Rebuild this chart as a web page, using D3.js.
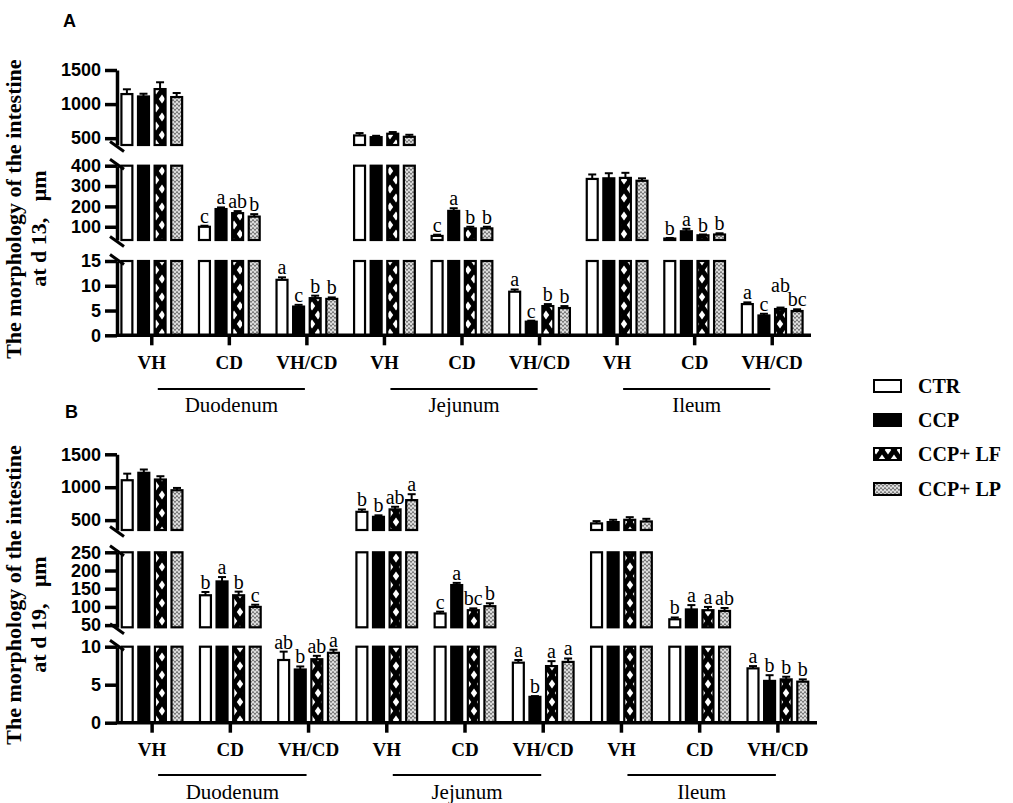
<!DOCTYPE html>
<html><head><meta charset="utf-8">
<script src="https://cdn.jsdelivr.net/npm/d3@7"></script>
<style>body{margin:0;background:#fff} svg{display:block}</style>
</head><body>
<svg id="chart" width="1013" height="803"></svg>
<script>
// ---------------- DATA ----------------
const categories = ["VH", "CD", "VH/CD"];
const intestineSegments = ["Duodenum", "Jejunum", "Ileum"];
const groups = ["CTR", "CCP", "CCP+ LF", "CCP+ LP"];

// y tick labels per axis segment (low, middle, top)
const ticksA = [[0, 5, 10, 15], [100, 200, 300, 400], [500, 1000, 1500]];
const ticksB = [[0, 5, 10], [50, 100, 150, 200, 250], [500, 1000, 1500]];

// rows: Duodenum VH, CD, VH/CD, Jejunum VH, CD, VH/CD, Ileum VH, CD, VH/CD
// columns: CTR, CCP, CCP+ LF, CCP+ LP
const meansA = [
  [1147, 1112, 1220, 1103],
  [100, 187, 167, 150],
  [11.2, 5.8, 7.5, 7.35],
  [540, 515, 565, 520],
  [55, 178, 92, 92],
  [8.8, 2.75, 5.9, 5.5],
  [335, 338, 340, 326],
  [42, 78, 58, 62],
  [6.3, 4.0, 5.3, 4.9]
];
const errorsA = [
  [70, 40, 100, 60],
  [5, 8, 10, 12],
  [0.5, 0.35, 0.5, 0.3],
  [35, 20, 25, 30],
  [6, 13, 8, 8],
  [0.45, 0.2, 0.4, 0.4],
  [22, 25, 25, 12],
  [3, 12, 4, 6],
  [0.35, 0.35, 0.3, 0.35]
];
const lettersA = [
  ["", "", "", ""],
  ["c", "a", "ab", "b"],
  ["a", "c", "b", "b"],
  ["", "", "", ""],
  ["c", "a", "b", "b"],
  ["a", "c", "b", "b"],
  ["", "", "", ""],
  ["b", "a", "b", "b"],
  ["a", "c", "ab", "bc"]
];

const meansB = [
  [1106, 1219, 1117, 954],
  [132, 170, 132, 100],
  [8.25, 7.0, 8.35, 9.2],
  [626, 550, 663, 804],
  [82, 160, 91, 102],
  [7.9, 3.4, 7.45, 8.0],
  [450, 470, 505, 480],
  [66, 93, 91, 89],
  [7.15, 5.5, 5.7, 5.4]
];
const errorsB = [
  [100, 50, 50, 35],
  [9, 12, 10, 6],
  [1.1, 0.4, 0.45, 0.4],
  [36, 23, 40, 90],
  [5, 6, 5, 8],
  [0.35, 0.1, 0.65, 0.45],
  [35, 35, 40, 40],
  [5, 12, 9, 8],
  [0.3, 0.75, 0.35, 0.3]
];
const lettersB = [
  ["", "", "", ""],
  ["b", "a", "b", "c"],
  ["ab", "b", "ab", "a"],
  ["b", "b", "ab", "a"],
  ["c", "a", "bc", "b"],
  ["a", "b", "a", "a"],
  ["", "", "", ""],
  ["b", "a", "a", "ab"],
  ["a", "b", "b", "b"]
];

// ---------------- LAYOUT ----------------
const SERIF = "'Liberation Serif','Times New Roman',Times,serif";
const SANS = "'Liberation Sans',Arial,Helvetica,sans-serif";

const panels = [
  {
    label: "A", labelX: 63, labelY: 27,
    day: "at d 13,\u00a0\u00a0\u00a0μm",
    x0: 113, x1: 811, axisX: 117,
    segs: [
      {d: [0, 15], r: [335.3, 261]},
      {d: [35, 400], r: [240, 165.7]},
      {d: [400, 1500], r: [145, 70]}
    ],
    ticks: ticksA, means: meansA, errors: errorsA, letters: lettersA,
    lineY: 389, segLabelY: 412
  },
  {
    label: "B", labelX: 65, labelY: 418,
    day: "at d 19,\u00a0\u00a0\u00a0μm",
    x0: 113, x1: 817, axisX: 117,
    segs: [
      {d: [0, 10], r: [722.7, 646.7]},
      {d: [44, 250], r: [627.3, 552.3]},
      {d: [350, 1500], r: [530, 454.3]}
    ],
    ticks: ticksB, means: meansB, errors: errorsB, letters: lettersB,
    lineY: 775, segLabelY: 799
  }
];

const svg = d3.select("#chart");
const defs = svg.append("defs");

// pattern for CCP+ LF : black with white staggered diamonds
const pLF = defs.append("pattern").attr("id", "patLF")
  .attr("patternUnits", "userSpaceOnUse").attr("width", 12).attr("height", 18);
pLF.append("rect").attr("width", 12).attr("height", 18).attr("fill", "#000");
[[0, 0], [12, 0], [0, 18], [12, 18], [6, 9]].forEach(([cx, cy]) => {
  pLF.append("path")
    .attr("d", `M${cx},${cy - 4.5}L${cx + 3.2},${cy}L${cx},${cy + 4.5}L${cx - 3.2},${cy}Z`)
    .attr("fill", "#fff");
});

// pattern for CCP+ LP : white with fine black wavy texture
const pLP = defs.append("pattern").attr("id", "patLP")
  .attr("patternUnits", "userSpaceOnUse").attr("width", 4).attr("height", 4);
pLP.append("rect").attr("width", 4).attr("height", 4).attr("fill", "#fff");
pLP.append("path").attr("d", "M0,1 Q1,0 2,1 T4,1").attr("stroke", "#000")
  .attr("stroke-width", 0.7).attr("fill", "none");
pLP.append("path").attr("d", "M0,3 Q1,4 2,3 T4,3").attr("stroke", "#000")
  .attr("stroke-width", 0.5).attr("fill", "none");

const fills = ["#fff", "#000", "url(#patLF)", "url(#patLP)"];

panels.forEach(P => {
  const g = svg.append("g");

  // panel label
  g.append("text").attr("x", P.labelX).attr("y", P.labelY)
    .attr("font-family", SANS).attr("font-weight", "bold").attr("font-size", 18)
    .text(P.label);

  // y scales per segment
  const ys = P.segs.map(s => d3.scaleLinear().domain(s.d).range(s.r));

  // x scales
  const idx = d3.range(9);
  const x = d3.scaleBand().domain(idx).range([P.x0, P.x1]).padding(0);
  const xi = d3.scaleBand().domain(groups).range([-36, 36]).padding(0.34);
  const cx = i => x(i) + x.bandwidth() / 2;

  // y title
  const axisTop = P.segs[2].r[1], axisBot = P.segs[0].r[0];
  const mid = (axisTop + axisBot) / 2;
  g.append("text")
    .attr("transform", `translate(21,${mid + 6.5}) rotate(-90)`)
    .attr("text-anchor", "middle").attr("font-family", SERIF)
    .attr("font-weight", "bold").attr("font-size", 22)
    .text("The morphology of the intestine");
  g.append("text")
    .attr("transform", `translate(46,${mid + 26}) rotate(-90)`)
    .attr("text-anchor", "middle").attr("font-family", SERIF)
    .attr("font-weight", "bold").attr("font-size", 22)
    .text(P.day);

  // bars
  const bars = g.append("g");
  const labelsG = g.append("g");
  P.means.forEach((row, i) => {
    const placed = [];
    row.forEach((v, j) => {
      const bx = cx(i) + xi(groups[j]);
      const bw = xi.bandwidth();
      P.segs.forEach((s, k) => {
        const y = ys[k];
        if (v <= s.d[0]) return;
        const top = Math.min(v, s.d[1]);
        bars.append("rect")
          .attr("x", bx).attr("width", bw)
          .attr("y", y(top)).attr("height", y(s.d[0]) - y(top))
          .attr("fill", fills[j]).attr("stroke", "#000").attr("stroke-width", 2.2);
        if (v <= s.d[1]) {
          const e = P.errors[i][j];
          const yc = y(v + e);
          const bc = bx + bw / 2;
          bars.append("line").attr("x1", bc).attr("x2", bc)
            .attr("y1", y(v)).attr("y2", yc).attr("stroke", "#000").attr("stroke-width", 2);
          bars.append("line").attr("x1", bc - 4).attr("x2", bc + 4)
            .attr("y1", yc).attr("y2", yc).attr("stroke", "#000").attr("stroke-width", 2);
          const lt = P.letters[i][j];
          if (lt) placed.push({j, bc, base: yc - 3, text: lt});
        }
      });
    });
    // draw letters right-to-left, lifting one that would collide with its right neighbour
    let right = null;
    placed.slice().reverse().forEach(L => {
      const t = labelsG.append("text").attr("x", L.bc).attr("y", L.base)
        .attr("text-anchor", "middle").attr("font-family", SERIF)
        .attr("font-size", 20).text(L.text);
      const w = t.node().getComputedTextLength();
      L.l = L.bc - w / 2; L.r = L.bc + w / 2; L.top = L.base - 13;
      if (right && L.r > right.l + 1 && L.base > right.top && L.top < right.base) {
        L.base = right.top - 1; L.top = L.base - 13;
        t.attr("y", L.base);
      }
      right = L;
    });
  });

  // y axes per segment
  P.segs.forEach((s, k) => {
    const ax = g.append("g").attr("transform", `translate(${P.axisX},0)`)
      .call(d3.axisLeft(ys[k]).tickValues(P.ticks[k]).tickFormat(d3.format("d"))
        .tickSize(12).tickSizeOuter(0).tickPadding(4));
    ax.select(".domain").attr("stroke-width", 3.5);
    ax.selectAll(".tick line").attr("stroke-width", 3.5);
    ax.selectAll(".tick text").attr("font-family", SANS).attr("font-weight", "bold")
      .attr("font-size", 18).attr("fill", "#000");
  });

  // break marks
  const breaks = [P.segs[0].r[1], P.segs[1].r[0], P.segs[1].r[1], P.segs[2].r[0]];
  breaks.forEach((by, n) => {
    const off = (n % 2 === 0) ? -1.5 : 1.5;
    g.append("line")
      .attr("x1", P.axisX - 7).attr("y1", by + off - 5)
      .attr("x2", P.axisX + 7).attr("y2", by + off + 5)
      .attr("stroke", "#000").attr("stroke-width", 3);
  });

  // x axis
  const xa = g.append("g").attr("transform", `translate(0,${axisBot})`)
    .call(d3.axisBottom(x).tickSize(10).tickSizeOuter(0).tickPadding(10)
      .tickFormat(i => categories[i % 3]));
  xa.select(".domain").attr("stroke-width", 3.5)
    .attr("d", `M${P.axisX},0H${P.x1}`);
  xa.selectAll(".tick line").attr("stroke-width", 3.5);
  xa.selectAll(".tick text").attr("font-family", SERIF).attr("font-weight", "bold")
    .attr("font-size", 19).attr("fill", "#000");

  // intestinal segment underline + names
  intestineSegments.forEach((name, s) => {
    const a = cx(s * 3) + 6, b = cx(s * 3 + 2) - 2;
    g.append("line").attr("x1", a).attr("x2", b).attr("y1", P.lineY).attr("y2", P.lineY)
      .attr("stroke", "#000").attr("stroke-width", 2);
    g.append("text").attr("x", (a + b) / 2).attr("y", P.segLabelY)
      .attr("text-anchor", "middle").attr("font-family", SERIF).attr("font-size", 21)
      .text(name);
  });
});

// legend
const legY = [386, 420, 454, 489];
const leg = svg.append("g");
groups.forEach((name, j) => {
  leg.append("rect").attr("x", 874).attr("y", legY[j] - 6).attr("width", 27).attr("height", 12)
    .attr("fill", fills[j]).attr("stroke", "#000").attr("stroke-width", 2);
  leg.append("text").attr("x", 918).attr("y", legY[j] + 7)
    .attr("font-family", SERIF).attr("font-weight", "bold").attr("font-size", 20)
    .text(name);
});
</script>
</body></html>
